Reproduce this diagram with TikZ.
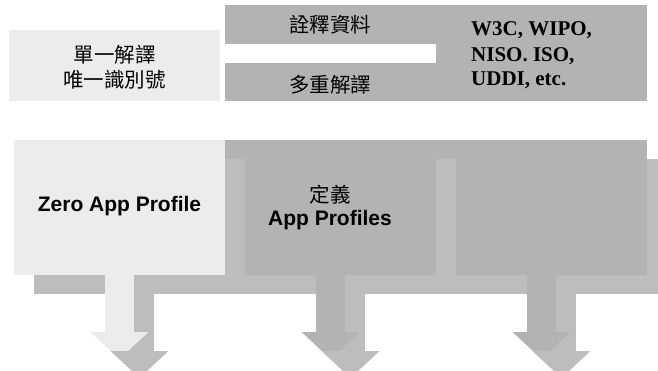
\documentclass[tikz,border=0pt]{standalone}
\usepackage{fontspec}
\setmainfont{Liberation Serif}
\newfontfamily\cjkfont{Noto Sans CJK TC}
\newfontfamily\arialfont{Liberation Sans}
\definecolor{lightbox}{HTML}{ECECEC}
\definecolor{frontgray}{HTML}{B3B3B3}
\definecolor{shadowgray}{HTML}{BDBDBD}
\tikzset{
  cjklabel/.style={inner sep=0pt, align=center, font=\cjkfont\fontsize{20.5}{25}\selectfont},
  sanslabel/.style={inner sep=0pt, align=center, font=\arialfont\bfseries\fontsize{21}{25}\selectfont},
  seriflabel/.style={inner sep=0pt, anchor=base west, font=\bfseries\fontsize{21}{25}\selectfont},
}
% box + shaft of one column; #1 = centre x, #2 = left, #3 = right, #4 = top, #5 = bottom
\newcommand{\colbody}[6]{%
  \fill[#6] (#2,#4) rectangle (#3,#5);
  \fill[#6] (#1-14.5,#5-1) rectangle (#1+14.5,#5+57);
}
% arrow head: #1 centre x, #2 top y
\newcommand{\colhead}[3]{%
  \fill[#3] (#1-29,#2) -- (#1+29,#2) -- (#1,#2+27) -- cycle;
}
\begin{document}
\begin{tikzpicture}[x=1pt,y=-1pt]
\useasboundingbox (0,0) rectangle (658,370);
\fill[white] (0,0) rectangle (658,370);

% ---- top section ----
\fill[lightbox] (9,30) rectangle (220,101);
\fill[frontgray] (225,5) rectangle (647,101);
\fill[white] (225,44) rectangle (436,63);
\node[cjklabel] (single) at (114.5,67) {單一解譯\\唯一識別號};
\node[cjklabel] (meta) at (330,25) {詮釋資料};
\node[cjklabel] (multi) at (330,85) {多重解譯};
\node[seriflabel] (w3c) at (471,35) {W3C, WIPO,};
\node[seriflabel] (niso) at (471,61) {NISO. ISO,};
\node[seriflabel] (uddi) at (471,85) {UDDI, etc.};

% ---- bottom section ----
% column 3
\colbody{561.5}{456}{667}{159}{294}{shadowgray}
\colbody{541.5}{436}{647}{140}{275}{frontgray}
\colhead{541.5}{332}{frontgray}
% column 2
\colbody{350.5}{245}{456}{159}{294}{shadowgray}
\colbody{330.5}{225}{436}{140}{275}{frontgray}
\colhead{330.5}{332}{frontgray}
% column 1
\colbody{139.5}{34}{245}{159}{294}{shadowgray}
\colbody{119.5}{14}{225}{140}{275}{lightbox}
\colhead{119.5}{332}{lightbox}
% shadow heads
\colhead{139.5}{351}{shadowgray}
\colhead{350.5}{351}{shadowgray}
\colhead{561.5}{351}{shadowgray}

\node[sanslabel] (zero) at (119.5,206) {Zero App Profile};
\node[cjklabel] (define) at (330,195) {定義};
\node[sanslabel] (profiles) at (330,220) {App Profiles};
\end{tikzpicture}
\end{document}
